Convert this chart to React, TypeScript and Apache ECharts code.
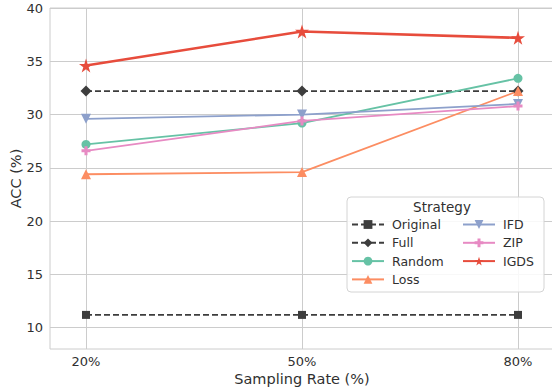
import React, { useEffect, useRef } from "react";
import * as echarts from "echarts";

const rates = [20, 50, 80];
const yTicks = [10, 15, 20, 25, 30, 35, 40];
const original = [11.2, 11.2, 11.2];
const full = [32.2, 32.2, 32.2];
const random = [27.2, 29.2, 33.4];
const loss = [24.4, 24.6, 32.2];
const ifd = [29.6, 30.0, 31.0];
const zip = [26.6, 29.4, 30.8];
const igds = [34.6, 37.8, 37.2];

const STAR =
  "path://M50,0 L61.2,34.5 L97.6,34.5 L68.2,55.9 L79.4,90.5 L50,69.1 L20.6,90.5 L31.8,55.9 L2.4,34.5 L38.8,34.5 Z";
const PLUS = "path://M33,0 H67 V33 H100 V67 H67 V100 H33 V67 H0 V33 H33 Z";

const FONT = "DejaVu Sans";
const TXT = "#303030";

function pts(vals: number[]) {
  return rates.map((r, i) => [r, vals[i]]);
}

export default function App() {
  const ref = useRef<HTMLDivElement>(null);
  useEffect(() => {
    if (!ref.current) return;
    const chart = echarts.init(ref.current, null, { renderer: "svg" });
    const mk = (
      name: string,
      vals: number[],
      color: string,
      symbol: string,
      size: number,
      opts: any = {}
    ) => ({
      name,
      type: "line",
      data: pts(vals),
      symbol,
      symbolSize: size,
      symbolRotate: opts.rotate || 0,
      showSymbol: true,
      lineStyle: {
        color,
        width: opts.width || 1.8,
        type: opts.dashed ? [6, 3] : "solid",
      },
      itemStyle: { color, opacity: 1 },
      z: opts.z || 2,
      emphasis: { disabled: true },
    });
    const dark = "#3d3d3d";
    chart.setOption({
      animation: false,
      backgroundColor: "#ffffff",
      textStyle: { fontFamily: FONT },
      grid: {
        left: 50,
        right: -2,
        top: 8,
        bottom: 40,
        show: true,
        borderColor: "#cccccc",
        borderWidth: 1,
        containLabel: false,
        outerBoundsMode: "none",
      },
      xAxis: {
        type: "value",
        min: 15,
        max: 85,
        name: "Sampling Rate (%)",
        nameLocation: "middle",
        nameGap: 22,
        nameMoveOverlap: false,
        nameTextStyle: { fontSize: 14.5, color: TXT, fontFamily: FONT },
        axisLine: { show: false },
        axisTick: { show: false, customValues: rates },
        axisLabel: {
          customValues: rates,
          formatter: (v: number) => v + "%",
          fontSize: 13,
          color: TXT,
          margin: 6,
          fontFamily: FONT,
        },
        splitLine: { show: true, lineStyle: { color: "#cccccc", width: 1 } },
      },
      yAxis: {
        type: "value",
        min: 8,
        max: 40,
        name: "ACC (%)",
        nameLocation: "middle",
        nameGap: 27,
        nameMoveOverlap: false,
        nameTextStyle: { fontSize: 14.5, color: TXT, fontFamily: FONT },
        axisLine: { show: false },
        axisTick: { show: false, customValues: yTicks },
        axisLabel: {
          customValues: yTicks,
          fontSize: 13,
          color: TXT,
          margin: 7,
          fontFamily: FONT,
        },
        splitLine: { show: true, lineStyle: { color: "#cccccc", width: 1 } },
      },
      legend: [
        {
          data: ["Original", "Full", "Random", "Loss"],
          orient: "vertical",
          left: 351,
          top: 218,
          itemWidth: 32,
          itemHeight: 11,
          itemGap: 5.3,
          textStyle: { fontSize: 12.5, color: TXT, fontFamily: FONT, padding: [0, 0, 0, 3] },
          padding: 0,
          selectedMode: false,
        },
        {
          data: ["IFD", "ZIP", "IGDS"],
          orient: "vertical",
          left: 462,
          top: 218,
          itemWidth: 32,
          itemHeight: 11,
          itemGap: 5.3,
          textStyle: { fontSize: 12.5, color: TXT, fontFamily: FONT, padding: [0, 0, 0, 3] },
          padding: 0,
          selectedMode: false,
        },
      ],
      graphic: [
        {
          type: "rect",
          shape: { x: 347, y: 197, width: 197, height: 95, r: 4 },
          style: { fill: "rgba(255,255,255,0.85)", stroke: "#d4d4d4", lineWidth: 1 },
          z: 3,
        },
        {
          type: "text",
          x: 442,
          y: 207,
          style: {
            text: "Strategy",
            fontSize: 13.5,
            fontFamily: FONT,
            fill: TXT,
            align: "center",
            verticalAlign: "middle",
          },
          z: 5,
        },
      ],
      series: [
        mk("Original", original, dark, "rect", 8, { dashed: true }),
        mk("Full", full, dark, "diamond", 11, { dashed: true }),
        mk("Random", random, "#66c2a5", "circle", 9),
        mk("Loss", loss, "#fc8d62", "triangle", 10),
        mk("IFD", ifd, "#8da0cb", "triangle", 10, { rotate: 180 }),
        mk("ZIP", zip, "#e78ac3", PLUS, 9),
        mk("IGDS", igds, "#e74c3c", STAR, 14, { width: 2.6, z: 3 }),
      ],
    });
    return () => chart.dispose();
  }, []);
  return (
    <div
      ref={ref}
      style={{ position: "fixed", left: 0, top: 0, width: 552, height: 389 }}
    />
  );
}
